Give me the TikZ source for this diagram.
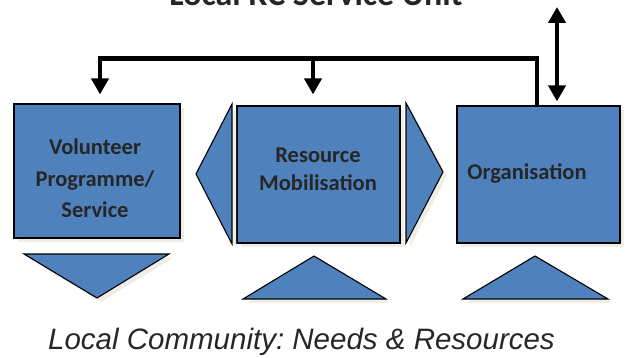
\documentclass[tikz,border=0pt]{standalone}
\usepackage{fontspec}
\newfontfamily\carlito{Carlito}
\newfontfamily\liberation{Liberation Sans}
\usetikzlibrary{arrows.meta,shadows}
\definecolor{boxblue}{RGB}{79,129,189}
\definecolor{shade}{RGB}{238,237,230}
\frenchspacing

\begin{document}
\begin{tikzpicture}[x=1pt,y=-1pt]
        \tikzset{
            shaded/.style={drop shadow={shadow xshift=4pt, shadow yshift=-4pt, fill=shade, opacity=1}},
            unitbox/.style={draw=black, line width=1.2pt, fill=boxblue, shaded,
              minimum width=#1, minimum height=137pt, inner sep=0pt},
            flow/.style={draw=black, line width=1.1pt, fill=boxblue, line join=miter, shaded},
            boxtext/.style={font=\carlito\bfseries\fontsize{22.5}{28}\selectfont, text=black!85, align=center},
            bus/.style={line width=4.5pt, black, line join=miter},
            tip/.style={-{Triangle[width=17pt,length=16pt]}}
          }

        \useasboundingbox (0,0) rectangle (629,358);
        \clip (0,0) rectangle (629,358);

        % the three parts of the unit
        \node[unitbox=166pt, minimum height=134pt] (vol) at (97,171) {};
        \node[unitbox=163pt] (res) at (318.5,174.5) {};
        \node[unitbox=163pt] (org) at (538.5,174.5) {};
        \node[boxtext, font=\carlito\bfseries\fontsize{22.5}{31.5}\selectfont] (volText) at (95,178.5) {Volunteer\\Programme/\\Service};
        \node[boxtext] (resText) at (318,169) {Resource\\Mobilisation};
        \node[boxtext, anchor=base] (orgText) at (527,180) {Organisation};

        % arrows between the boxes
        \filldraw[flow] (232,104) -- (196,174) -- (232,244) -- cycle;
        \filldraw[flow] (406,103) -- (443,172) -- (406,243) -- cycle;

        % triangles to the community
        \filldraw[flow] (24,254) -- (169,254) -- (97,298) -- cycle;
        \filldraw[flow] (243,299) -- (386,299) -- (314,256) -- cycle;
        \filldraw[flow] (463,299) -- (608,299) -- (535,256) -- cycle;

        % connectors from the service unit
        \coordinate (busL) at (100,58.5);
        \coordinate (busM) at (313,58.5);
        \coordinate (unit) at (557,7);
        \draw[bus, tip, shorten >=9pt] ([xshift=-1.5pt]org.north) |- (busL) -- ([xshift=3pt]vol.north);
        \draw[bus, tip, shorten >=11pt] (busM) -- ([xshift=-5.5pt]res.north);
        \draw[bus, {Triangle[width=17pt,length=16pt]}-{Triangle[width=17pt,length=16pt]}, shorten >=4pt] (unit) -- ([xshift=18.5pt]org.north);

        \node[font=\carlito\bfseries\fontsize{34}{40}\selectfont, text=black!85, anchor=base] (title) at (316,6) {Local RC Service Unit};
        \node[font=\liberation\itshape\fontsize{29.5}{34}\selectfont, text=black!85, anchor=base] (community) at (301.5,349) {Local Community: Needs \& Resources};
    \end{tikzpicture}
\end{document}
